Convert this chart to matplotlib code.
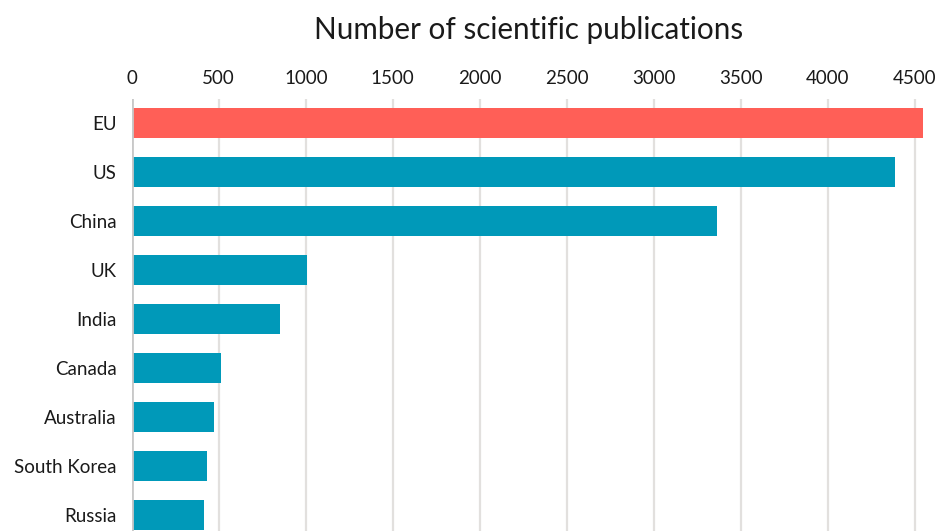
import matplotlib
matplotlib.use("Agg")
import matplotlib.pyplot as plt

countries = ["EU", "US", "China", "UK", "India", "Canada", "Australia", "South Korea", "Russia"]
publications = [4546, 4385, 3362, 1005, 852, 511, 473, 433, 414]
highlight = "EU"
ticks = [0, 500, 1000, 1500, 2000, 2500, 3000, 3500, 4000, 4500]

plt.rcParams["font.family"] = ["Lato", "DejaVu Sans"]

fig = plt.figure(figsize=(9.38, 5.31), dpi=100)
W, H = 938, 531
left, right, top, bottom = 131.7, 932.4, 99, 531
ax = fig.add_axes([left / W, 1 - bottom / H, (right - left) / W, (bottom - top) / H])

red = "#FF5F57"
teal = "#0099B9"
colors = [red if c == highlight else teal for c in countries]
ypos = list(range(len(countries)))
ax.barh(ypos, publications, height=0.6, color=colors, zorder=3)

ax.set_xlim(0, 4600)
ax.set_ylim(len(countries) - 1 + 0.33, -0.49)
ax.set_yticks(ypos)
ax.set_yticklabels(countries, fontsize=13.5, color="#1a1a1a")
ax.set_xticks(ticks)
ax.set_xticklabels([str(t) for t in ticks], fontsize=13.5, color="#1a1a1a")
ax.xaxis.tick_top()
ax.tick_params(axis="both", length=0)
ax.tick_params(axis="x", pad=9)
ax.tick_params(axis="y", pad=11)

ax.grid(axis="x", color="#e2e0de", linewidth=1.6, zorder=0)
ax.axvline(0, color="#c8c8c8", linewidth=2.0, zorder=4)
for s in ax.spines.values():
    s.set_visible(False)

fig.text(529 / W, 1 - 30 / H, "Number of scientific publications", ha="center", va="center",
         fontsize=21.3, color="#1a1a1a")

fig.savefig("out.png", dpi=100)
